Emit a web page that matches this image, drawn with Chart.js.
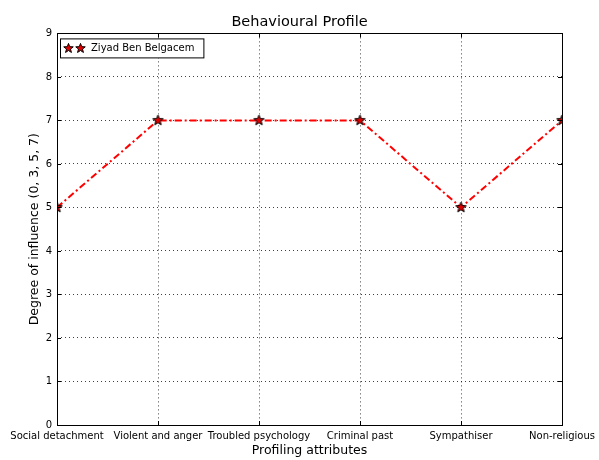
<!DOCTYPE html>
<html>
<head>
<meta charset="utf-8">
<script src="https://cdn.jsdelivr.net/npm/chart.js@4"></script>
<style>
  html, body { margin: 0; padding: 0; background: #fff; }
  #wrap { width: 599px; height: 460px; }
</style>
</head>
<body>
<div id="wrap"><canvas id="grafico" width="599" height="460"></canvas></div>
<script>
const categorias = ["Social detachment", "Violent and anger", "Troubled psychology", "Criminal past", "Sympathiser", "Non-religious"];
const valores = [5, 7, 7, 7, 5, 7];
const nomeSerie = "Ziyad Ben Belgacem";
const yTicks = [0, 1, 2, 3, 4, 5, 6, 7, 8, 9];

const FONTE = "'DejaVu Sans', sans-serif";

/* estrela desenhada num canvas pra usar como pointStyle */
function fazerEstrela(r) {
  const c = document.createElement("canvas");
  const s = Math.ceil(r * 2 + 2);
  c.width = s; c.height = s;
  const g = c.getContext("2d");
  desenharEstrela(g, s / 2, s / 2, r);
  return c;
}
function desenharEstrela(g, cx, cy, r) {
  g.beginPath();
  for (let i = 0; i < 10; i++) {
    const rr = i % 2 === 0 ? r : r * 0.42;
    const a = -Math.PI / 2 + i * Math.PI / 5;
    const x = cx + rr * Math.cos(a), y = cy + rr * Math.sin(a);
    if (i === 0) g.moveTo(x, y); else g.lineTo(x, y);
  }
  g.closePath();
  g.fillStyle = "#e00000";
  g.fill();
  g.lineWidth = 1;
  g.strokeStyle = "#000";
  g.stroke();
}
const estrela = fazerEstrela(5.5);

/* moldura, ticks pra dentro e legenda no estilo matplotlib */
const molduraPlugin = {
  id: "moldura",
  afterDatasetsDraw(chart) {
    const { ctx, chartArea: a, scales } = chart;
    ctx.save();
    ctx.strokeStyle = "#000";
    ctx.lineWidth = 1;
    ctx.setLineDash([]);
    ctx.strokeRect(Math.round(a.left) + 0.5, Math.round(a.top) + 0.5,
                   Math.round(a.right - a.left), Math.round(a.bottom - a.top));
    ctx.beginPath();
    categorias.forEach((c, i) => {
      const x = Math.round(scales.x.getPixelForValue(i)) + 0.5;
      ctx.moveTo(x, a.bottom); ctx.lineTo(x, a.bottom - 4);
      ctx.moveTo(x, a.top); ctx.lineTo(x, a.top + 4);
    });
    yTicks.forEach(v => {
      const y = Math.round(scales.y.getPixelForValue(v)) + 0.5;
      ctx.moveTo(a.left, y); ctx.lineTo(a.left + 4, y);
      ctx.moveTo(a.right, y); ctx.lineTo(a.right - 4, y);
    });
    ctx.stroke();

    // legenda
    const lx = a.left + 3, ly = a.top + 5;
    ctx.font = "10px " + FONTE;
    const w = ctx.measureText(nomeSerie).width + 40;
    ctx.fillStyle = "#fff";
    ctx.fillRect(lx + 0.5, ly + 0.5, w, 19);
    ctx.strokeRect(lx + 0.5, ly + 0.5, w, 19);
    desenharEstrela(ctx, lx + 8.5, ly + 10, 5);
    desenharEstrela(ctx, lx + 20.5, ly + 10, 5);
    ctx.fillStyle = "#000";
    ctx.textBaseline = "middle";
    ctx.fillText(nomeSerie, lx + 31, ly + 10.5);
    ctx.restore();
  }
};

const ctx = document.getElementById("grafico");

new Chart(ctx, {
  type: "line",
  data: {
    labels: categorias,
    datasets: [
      {
        label: nomeSerie,
        data: valores,
        borderColor: "#ff0000",
        borderWidth: 2,
        borderDash: [7, 3, 2, 3],
        pointStyle: estrela,
        pointRadius: 5,
        pointHoverRadius: 5,
        fill: false,
        tension: 0,
        clip: 0,
      },
    ],
  },
  options: {
    responsive: false,
    animation: false,
    devicePixelRatio: 1,
    layout: { padding: 0 },
    plugins: {
      legend: { display: false },
      tooltip: { enabled: false },
      title: {
        display: true,
        text: "Behavioural Profile",
        color: "#000",
        font: { family: FONTE, size: 14.5, weight: "normal" },
        padding: { top: 14, bottom: 2 },
      },
    },
    scales: {
      x: {
        offset: false,
        afterFit(scale) {
          scale.height = 35;
          scale.paddingLeft = 0;
          scale.paddingRight = 37;
        },
        grid: {
          color: "rgba(0,0,0,0.75)",
          lineWidth: 1,
          drawTicks: false,
        },
        border: { display: false, dash: [1, 3] },
        ticks: {
          color: "#000",
          font: { family: FONTE, size: 10 },
          padding: 5,
          autoSkip: false,
          maxRotation: 0,
        },
        title: {
          display: true,
          text: "Profiling attributes",
          color: "#000",
          font: { family: FONTE, size: 12.5 },
          padding: { top: 0, bottom: 2 },
        },
      },
      y: {
        min: 0,
        max: 9,
        afterFit(scale) { scale.width = 57; },
        afterBuildTicks(scale) { scale.ticks = yTicks.map(v => ({ value: v })); },
        grid: {
          color: "rgba(0,0,0,0.75)",
          lineWidth: 1,
          drawTicks: false,
        },
        border: { display: false, dash: [1, 3] },
        ticks: {
          color: "#000",
          font: { family: FONTE, size: 10 },
          padding: 5,
        },
        title: {
          display: true,
          text: "Degree of influence (0, 3, 5, 7)",
          color: "#000",
          font: { family: FONTE, size: 12.5 },
          padding: { top: 27, bottom: 0 },
        },
      },
    },
  },
  plugins: [molduraPlugin],
});
</script>
</body>
</html>
